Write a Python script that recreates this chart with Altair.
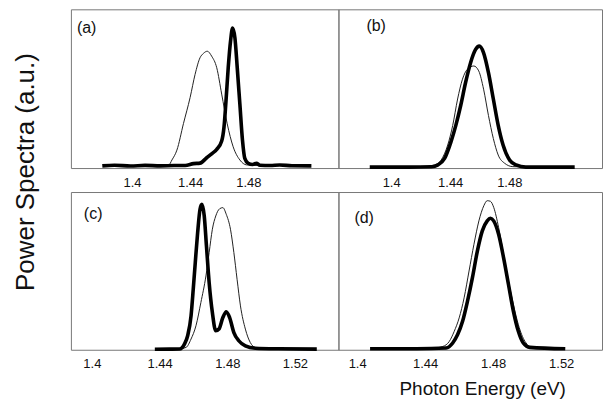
import altair as alt
import pandas as pd

FONT = "Liberation Sans"

# ---------------- data (photon energy in eV, power in a.u.) ----------------
a_thin_E = [1.400, 1.4195, 1.4252, 1.4275, 1.4309, 1.4354, 1.4400, 1.4434, 1.4468, 1.4491,
            1.4518, 1.4548, 1.4583, 1.4617, 1.4655, 1.4696, 1.4742, 1.4788, 1.4879, 1.500]
a_thin_P = [0.016, 0.016, 0.018, 0.051, 0.113, 0.280, 0.445, 0.590, 0.695, 0.722,
            0.736, 0.705, 0.632, 0.466, 0.279, 0.134, 0.051, 0.020, 0.016, 0.016]
a_thick_E = [1.3796, 1.388, 1.399, 1.409, 1.4195, 1.429, 1.4366, 1.4423, 1.4468, 1.4514,
             1.4548, 1.4583, 1.4617, 1.4633, 1.4646, 1.4662, 1.4678, 1.4692, 1.4708, 1.4724,
             1.4742, 1.4760, 1.4776, 1.4799, 1.4830, 1.4856, 1.4880, 1.4950, 1.5016, 1.5100, 1.5234]
a_thick_P = [0.014, 0.018, 0.013, 0.017, 0.014, 0.016, 0.016, 0.028, 0.031, 0.065,
             0.090, 0.118, 0.171, 0.259, 0.414, 0.632, 0.800, 0.882, 0.820, 0.632,
             0.404, 0.176, 0.061, 0.030, 0.022, 0.030, 0.018, 0.016, 0.019, 0.015, 0.014]

b_thin_E = [1.400, 1.4200, 1.4296, 1.4339, 1.4383, 1.4417, 1.4450, 1.4483, 1.4516, 1.4560,
            1.4593, 1.4626, 1.4659, 1.4692, 1.4725, 1.4769, 1.4824, 1.4979]
b_thin_P = [0.006, 0.006, 0.020, 0.051, 0.145, 0.269, 0.435, 0.560, 0.622, 0.643,
            0.612, 0.497, 0.331, 0.186, 0.082, 0.030, 0.009, 0.006]
b_thick_E = [1.3855, 1.4119, 1.4273, 1.4317, 1.4362, 1.4405, 1.4438, 1.4471, 1.4504, 1.4538,
             1.4571, 1.4597, 1.4626, 1.4659, 1.4692, 1.4725, 1.4758, 1.4802, 1.4846, 1.4912, 1.5243]
b_thick_P = [0.006, 0.006, 0.008, 0.020, 0.061, 0.165, 0.269, 0.394, 0.539, 0.664,
             0.746, 0.768, 0.726, 0.601, 0.435, 0.269, 0.145, 0.051, 0.020, 0.006, 0.006]

c_thin_E = [1.4400, 1.4459, 1.4520, 1.4557, 1.4586, 1.4615, 1.4644, 1.4674, 1.4693, 1.4712,
            1.4732, 1.4755, 1.4774, 1.4794, 1.4819, 1.4839, 1.4858, 1.4878, 1.4907, 1.4936,
            1.4965, 1.5043]
c_thin_P = [0.004, 0.004, 0.006, 0.015, 0.068, 0.152, 0.299, 0.468, 0.616, 0.764,
            0.848, 0.894, 0.901, 0.859, 0.764, 0.616, 0.447, 0.278, 0.131, 0.046,
            0.015, 0.004]
c_thick_E = [1.4372, 1.4459, 1.4518, 1.4547, 1.4566, 1.4586, 1.4599, 1.4611, 1.4625, 1.4639,
             1.4650, 1.4664, 1.4677, 1.4693, 1.4712, 1.4732, 1.4751, 1.4774, 1.4794, 1.4814,
             1.4839, 1.4868, 1.4907, 1.4965, 1.5101, 1.5329]
c_thick_P = [0.003, 0.004, 0.005, 0.036, 0.089, 0.215, 0.384, 0.553, 0.742, 0.891,
             0.922, 0.848, 0.658, 0.426, 0.236, 0.120, 0.131, 0.204, 0.241, 0.204,
             0.109, 0.057, 0.025, 0.010, 0.006, 0.004]

d_thin_E = [1.4232, 1.4349, 1.4440, 1.4504, 1.4542, 1.4571, 1.4600, 1.4629, 1.4658, 1.4687,
            1.4716, 1.4745, 1.4765, 1.4784, 1.4803, 1.4832, 1.4861, 1.4890, 1.4919, 1.4948,
            1.4987, 1.5036, 1.5103]
d_thin_P = [0.006, 0.006, 0.009, 0.021, 0.053, 0.117, 0.202, 0.329, 0.499, 0.669,
            0.817, 0.913, 0.945, 0.941, 0.903, 0.775, 0.605, 0.435, 0.287, 0.159,
            0.053, 0.011, 0.006]
d_thick_E = [1.4076, 1.4349, 1.4523, 1.4562, 1.4591, 1.4620, 1.4649, 1.4678, 1.4707, 1.4736,
             1.4765, 1.4784, 1.4803, 1.4832, 1.4861, 1.4890, 1.4919, 1.4948, 1.4977, 1.5016, 1.5224]
d_thick_P = [0.006, 0.006, 0.011, 0.043, 0.096, 0.180, 0.308, 0.457, 0.626, 0.754,
             0.817, 0.834, 0.817, 0.732, 0.584, 0.414, 0.244, 0.117, 0.043, 0.015, 0.006]

top_ticks = [1.40, 1.44, 1.48]
bottom_ticks = [1.40, 1.44, 1.48, 1.52]
panel_labels = ["(a)", "(b)", "(c)", "(d)"]
x_title = "Photon Energy (eV)"
y_title = "Power Spectra (a.u.)"


def panel(thin_E, thin_P, thick_E, thick_P, domain, ticks, label, w, h, lx, ly,
          title=None, ytitle=None):
    thin = pd.DataFrame({"E": thin_E, "P": thin_P})
    thick = pd.DataFrame({"E": thick_E, "P": thick_P})
    axis_kw = dict(values=ticks, format=".2~f", domain=False, ticks=False, grid=False,
                   labelPadding=8, labelFontSize=13, labelFont=FONT, labelColor="#111",
                   labelFlush=False)
    if title:
        axis_kw.update(title=title, titleFont=FONT, titleFontSize=19, titleFontWeight="normal",
                       titleColor="#111", titleX=144, titleY=30, titleAlign="center",
                       titleBaseline="top")
    else:
        axis_kw.update(title=None)
    xenc = alt.X("E:Q", scale=alt.Scale(domain=domain, nice=False, zero=False),
                 axis=alt.Axis(**axis_kw))
    yenc = alt.Y("P:Q", scale=alt.Scale(domain=[0, 1], nice=False), axis=None)
    l_thin = alt.Chart(thin).mark_line(color="#222", strokeWidth=1, interpolate="monotone").encode(
        x=xenc, y=yenc)
    l_thick = alt.Chart(thick).mark_line(color="#000", strokeWidth=3.6, interpolate="monotone").encode(
        x="E:Q", y="P:Q")
    txt = alt.Chart(pd.DataFrame({"t": [label]})).mark_text(
        align="left", baseline="middle", fontSize=16, font=FONT, color="#111").encode(
        x=alt.value(lx), y=alt.value(ly), text="t:N")
    layers = [l_thin, l_thick, txt]
    if ytitle:
        yt = alt.Chart(pd.DataFrame({"t": [ytitle]})).mark_text(
            angle=270, align="center", baseline="middle", fontSize=26, font=FONT,
            color="#111").encode(x=alt.value(-45), y=alt.value(163), text="t:N")
        layers.append(yt)
    return alt.layer(*layers).properties(width=w, height=h)


pa = panel(a_thin_E, a_thin_P, a_thick_E, a_thick_P, [1.358, 1.542], top_ticks, panel_labels[0],
           268, 159, 6, 19, ytitle=y_title)
pb = panel(b_thin_E, b_thin_P, b_thick_E, b_thick_P, [1.3643, 1.5428], top_ticks, panel_labels[1],
           264, 159, 28, 17)
pc = panel(c_thin_E, c_thin_P, c_thick_E, c_thick_P, [1.3876, 1.5457], bottom_ticks, panel_labels[2],
           268, 158, 13, 22)
pd_ = panel(d_thin_E, d_thin_P, d_thick_E, d_thick_P, [1.389, 1.544], bottom_ticks, panel_labels[3],
            264, 158, 16, 26, title=x_title)

chart = alt.concat(pa, pb, pc, pd_, columns=2, spacing={"row": 24, "column": 0},
                   bounds="flush", align="each").configure_view(
    stroke="#777", strokeWidth=1).properties(
    padding={"left": 4, "top": 0, "right": 0, "bottom": 0}, background="white")

chart.save("out.html", embed_options={"renderer": "svg", "actions": False})
